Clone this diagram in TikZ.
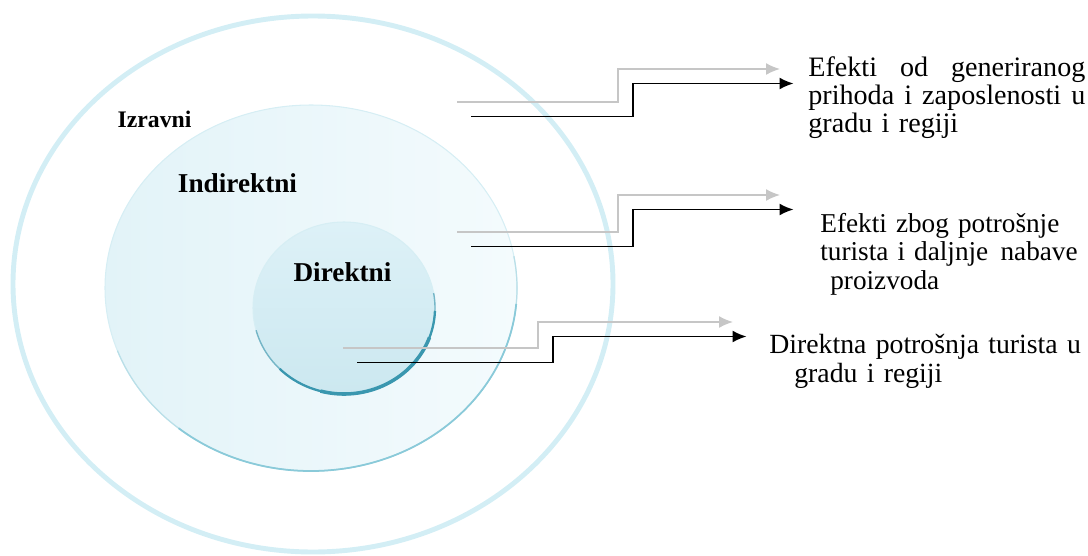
\documentclass[tikz,border=0pt]{standalone}
\usepackage{fontspec}
\setmainfont{Liberation Serif}
\usepackage{tikz}
\usetikzlibrary{arrows.meta, positioning}
\definecolor{ringblue}{HTML}{D3EEF5}
\definecolor{midleft}{HTML}{E2F3F8}
\definecolor{midright}{HTML}{F4FBFD}
\definecolor{midedge}{HTML}{D6EEF4}
\definecolor{midrim}{HTML}{8ACAD9}
\definecolor{coretop}{HTML}{DDF1F7}
\definecolor{corebottom}{HTML}{CCE8F0}
\definecolor{corerim}{HTML}{3A97AF}
\definecolor{lightarrow}{HTML}{C6C6C6}

\begin{document}
\begin{tikzpicture}[>={Latex[length=2.8mm,width=2.4mm]},
    lbl/.style={inner sep=0pt, font=\bfseries\fontsize{15.5}{16}\selectfont},
    effect/.style={anchor=base west, inner sep=0pt, align=left},
    greyarrow/.style={->, draw=lightarrow, line width=0.9pt},
    blackarrow/.style={->, draw=black, line width=0.9pt}]
\useasboundingbox (0,0) rectangle (21.76,11.1);

% the three circles
\draw[ringblue, line width=2.8pt] (6.26,5.42) ellipse (6 and 5.36);
\shade[left color=midleft, right color=midright] (6.22,5.34) ellipse (4.12 and 3.66);
\draw[midedge, line width=0.6pt] (6.22,5.34) ellipse (4.12 and 3.66);
\draw[midrim!60, line width=0.7pt] ([shift={(200:4.12 and 3.66)}]6.22,5.34)
    arc[start angle=200, end angle=370, x radius=4.12, y radius=3.66];
\draw[midrim, line width=1pt] ([shift={(230:4.12 and 3.66)}]6.22,5.34)
    arc[start angle=230, end angle=355, x radius=4.12, y radius=3.66];
\shade[top color=coretop, bottom color=corebottom] (6.88,4.94) ellipse (1.82 and 1.72);
\draw[midedge, line width=0.6pt] (6.88,4.94) ellipse (1.82 and 1.72);
\draw[corerim!70, line width=0.8pt] ([shift={(195:1.82 and 1.72)}]6.88,4.94)
    arc[start angle=195, end angle=370, x radius=1.82, y radius=1.72];
\draw[corerim, line width=1.3pt] ([shift={(225:1.82 and 1.72)}]6.88,4.94)
    arc[start angle=225, end angle=358, x radius=1.82, y radius=1.72];
\draw[corerim, line width=2pt] ([shift={(255:1.82 and 1.72)}]6.88,4.94)
    arc[start angle=255, end angle=340, x radius=1.82, y radius=1.72];

\node[lbl, font=\bfseries\fontsize{13.5}{14}\selectfont] (izravni) at (3.09,8.71) {Izravni};
\node[lbl] (indirektni) at (4.75,7.43) {Indirektni};
\node[lbl] (direktni) at (6.85,5.66) {Direktni};

% effects on the right
\node[effect, text width=5.54cm, font=\fontsize{16}{16}\selectfont] (eff1) at (16.16,9.58)
    {Efekti\hfill od\hfill generiranog\\ prihoda\hfill i\hfill zaposlenosti\hfill u\\ gradu i regiji};
\node[effect, text width=5.3cm, font=\fontsize{15.5}{16.5}\selectfont] (eff2) at (16.4,6.46)
    {Efekti zbog potrošnje\\ turista i daljnje\hspace{0.45em}nabave\\ \hspace*{0.2cm}proizvoda};
\node[effect, text width=6.3cm, font=\fontsize{15.8}{17}\selectfont] (eff3) at (15.38,4.04)
    {Direktna potrošnja turista u\\ \hspace*{0.5cm}gradu i regiji};

% stepped arrows, grey one and black one per level
\foreach \i/\xs/\ys/\xc/\yt/\xt in {1/9.14/9.06/12.36/9.72/15.6,
                                     2/9.14/6.46/12.36/7.2/15.6,
                                     3/6.86/4.14/10.76/4.66/14.66}
{
    \coordinate (from\i) at (\xs,\ys);
    \coordinate (to\i) at (\xt,\yt);
    \draw[greyarrow] (from\i) -| (\xc,\yt) -- (to\i);
    \draw[blackarrow] ([shift={(.28,-.29)}]from\i) -| ([shift={(.3,-.29)}]\xc,\yt)
        -- ([shift={(.27,-.29)}]to\i);
}
\end{tikzpicture}
\end{document}
